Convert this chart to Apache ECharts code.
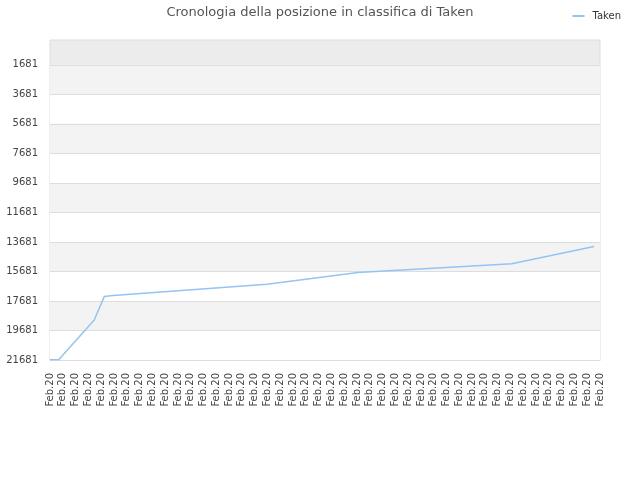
<!DOCTYPE html>
<html>
<head>
<meta charset="utf-8">
<script src="https://cdn.jsdelivr.net/npm/echarts@6/dist/echarts.min.js"></script>
<style>html,body{margin:0;padding:0;background:#fff}#c{width:640px;height:480px}</style>
</head>
<body>
<div id="c"></div>
<script>
const titleText = 'Cronologia della posizione in classifica di Taken';
const seriesName = 'Taken';
const categories = ['Feb.20','Feb.20','Feb.20','Feb.20','Feb.20','Feb.20','Feb.20','Feb.20','Feb.20','Feb.20','Feb.20',
  'Feb.20','Feb.20','Feb.20','Feb.20','Feb.20','Feb.20','Feb.20','Feb.20','Feb.20','Feb.20','Feb.20',
  'Feb.20','Feb.20','Feb.20','Feb.20','Feb.20','Feb.20','Feb.20','Feb.20','Feb.20','Feb.20','Feb.20',
  'Feb.20','Feb.20','Feb.20','Feb.20','Feb.20','Feb.20','Feb.20','Feb.20','Feb.20','Feb.20','Feb.20'];
// position along the category axis (in category-index units) and rank
const xPos = [0, 0.68, 3.46, 4.25, 4.93, 16.97, 24.08, 36.1, 42.53];
const ranks = [21660, 21660, 18970, 17373, 17319, 16545, 15757, 15167, 13993];
const yTicks = [1681, 3681, 5681, 7681, 9681, 11681, 13681, 15681, 17681, 19681, 21681];
const yMin = 1, yMax = 21681;

const chart = echarts.init(document.getElementById('c'), null, {renderer: 'canvas'});
const font = 'DejaVu Sans';
chart.setOption({
  animation: false,
  backgroundColor: '#ffffff',
  title: {
    text: titleText, left: 'center', top: 1,
    textStyle: {fontFamily: font, fontSize: 13, fontWeight: 'normal', color: '#555555'}
  },
  legend: {
    right: 14, top: 6,
    icon: 'rect', itemWidth: 12, itemHeight: 2,
    textStyle: {fontFamily: font, fontSize: 10, color: '#333333', padding: [0, 0, 0, 3]},
    data: [seriesName]
  },
  grid: {
    left: 50, right: 40, top: 40, bottom: 120,
    show: true, backgroundColor: '#ececec', borderColor: '#dddddd', borderWidth: 1
  },
  xAxis: [{
    type: 'category', data: categories, boundaryGap: false,
    axisLine: {show: true, lineStyle: {color: '#dddddd'}},
    axisTick: {show: false},
    axisLabel: {rotate: 90, interval: 0, fontFamily: font, fontSize: 10, color: '#444444', margin: 13},
    splitLine: {show: false}
  }, {
    type: 'value', min: 0, max: categories.length - 1, show: false
  }],
  yAxis: {
    type: 'value', inverse: true, min: yMin, max: yMax,
    axisLine: {show: false},
    axisTick: {show: false, customValues: yTicks},
    axisLabel: {customValues: yTicks, formatter: v => String(v), verticalAlign: 'middle',
      padding: [3, 0, 0, 0],
      fontFamily: font, fontSize: 10, color: '#444444', margin: 12},
    splitLine: {show: true, lineStyle: {color: '#dddddd', width: 1}},
    splitArea: {show: true, areaStyle: {color: ['#f3f3f3', '#ffffff']}}
  },
  series: [{
    name: seriesName, type: 'line', xAxisIndex: 1, showSymbol: false, symbol: 'none',
    lineStyle: {color: '#92c5f3', width: 1.5},
    itemStyle: {color: '#92c5f3'},
    data: xPos.map((x, i) => [x, ranks[i]])
  }]
});
</script>
</body>
</html>
